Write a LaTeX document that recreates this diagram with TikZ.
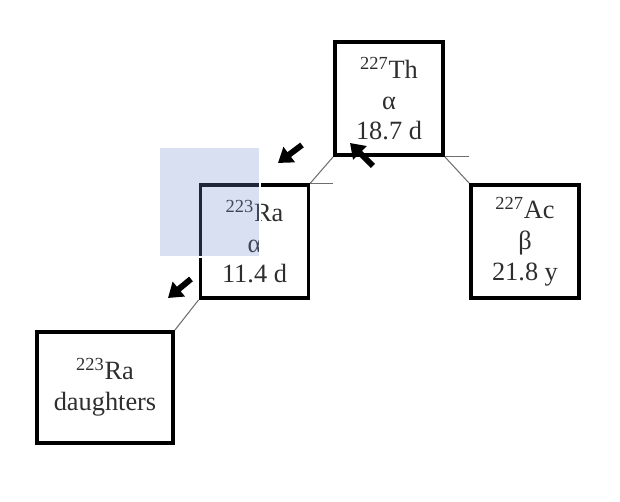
\documentclass[tikz,border=0pt]{standalone}
\usepackage{fontspec}
\setmainfont{Liberation Serif}
\usetikzlibrary{arrows.meta}
\definecolor{Ink}{HTML}{2E2E2E}
\definecolor{Wire}{HTML}{6E6E6E}
\definecolor{Veil}{RGB}{115,141,204}
\newcommand{\iso}[2]{\textsuperscript{#1}#2}

\begin{document}
\begin{tikzpicture}[x=0.02cm,y=-0.02cm,
  nuclide/.style={draw=black,line width=2.2pt,minimum width=2.16cm,minimum height=2.26cm,inner sep=0pt,align=center,text=Ink,font=\fontsize{15}{17.5}\selectfont},
  link/.style={draw=Wire,line width=0.6pt},
  flow/.style={line width=3.4pt,-{Triangle[length=8pt,width=10.5pt]}}
]
\useasboundingbox (0,0) rectangle (620,502);
\node[nuclide] (th) at (389,98.5) {\iso{227}{Th}\\α\\18.7 d};
\node[nuclide] (ra) at (254.5,241.5) {\iso{223}{Ra}\\α\\11.4 d};
\node[nuclide] (ac) at (525,241.5) {\iso{227}{Ac}\\β\\21.8 y};
\node[nuclide,minimum width=2.72cm,minimum height=2.22cm] (dau) at (105,387.5) {\iso{223}{Ra}\\daughters};
\draw[link] (th.south west) -- (ra.north east);
\draw[link] (ra.north east) -- (th.south west |- ra.north east);
\draw[link] (th.south east) -- (ac.north west);
\draw[link] (th.south east) -- (ac.north west |- th.south east);
\draw[link] (ra.south west) -- (dau.north east);
\coordinate (thra) at (302,145);
\coordinate (thra') at (278,163);
\coordinate (radau) at (191,279);
\coordinate (radau') at (168,298);
\coordinate (back) at (373,166);
\coordinate (back') at (350,143);
\draw[flow] (thra) -- (thra');
\draw[flow] (radau) -- (radau');
\draw[flow] (back) -- (back');
\filldraw[fill=Veil,fill opacity=0.27,draw=white,line width=1.6pt] (159,147) rectangle (260,257);
\end{tikzpicture}
\end{document}
